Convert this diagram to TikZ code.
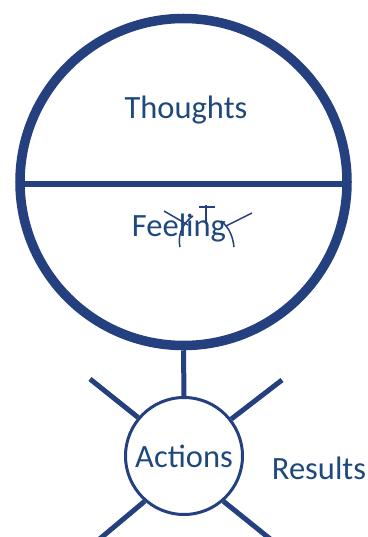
\documentclass[tikz,border=0pt]{standalone}
\usepackage{fontspec}
\setmainfont{Carlito}
\definecolor{fig}{HTML}{24407F}
\definecolor{txt}{HTML}{1F497D}
\begin{document}
\begin{tikzpicture}[x=1pt,y=-1pt,
  thick stroke/.style={draw=fig,line width=9.5pt},
  limb/.style={draw=fig,line width=5pt},
  scribble/.style={draw=fig,line width=1.5pt},
  lbl/.style={text=txt,font=\fontsize{32.5}{36}\selectfont,inner sep=0pt}]
\useasboundingbox (0,0) rectangle (367,537);
\node[circle,thick stroke,minimum size=327pt,inner sep=0pt] (head) at (183.5,182) {};
\coordinate (hl) at (20,184);
\coordinate (hr) at (347,184);
\draw[draw=fig,line width=6pt] (hl) -- (hr);
\node[lbl] (thoughts) at (186,110) {Thoughts};
\node[lbl] (feeling) at (179,228) {Feeling};
% scribbles
\draw[scribble] (164,211) -- (188,225);
\draw[scribble] (193,216) .. controls (180,225) and (178,238) .. (180,247);
\draw[scribble] (206,205) -- (206,223);
\draw[scribble] (199,207) -- (215,207);
\draw[scribble] (252,213) -- (226,226);
\draw[scribble] (221,221) .. controls (230,228) and (233,238) .. (234,247);
% body
\node[circle,draw=fig,line width=3pt,minimum size=117pt,inner sep=0pt] (actions) at (184,456) {};
\node[lbl] at (actions.center) {Actions};
\draw[limb] (head.south) -- (actions.north);
\coordinate (ul) at (90,379);
\coordinate (ur) at (282,380);
\coordinate (ll) at (96,542);
\coordinate (lr) at (274,542);
\draw[limb] (ul) -- (actions.140);
\draw[limb] (ur) -- (actions.38);
\draw[limb] (ll) -- (actions.-131);
\draw[limb] (lr) -- (actions.-49);
\node[lbl] (results) at (319,468) {Results};
\end{tikzpicture}
\end{document}
